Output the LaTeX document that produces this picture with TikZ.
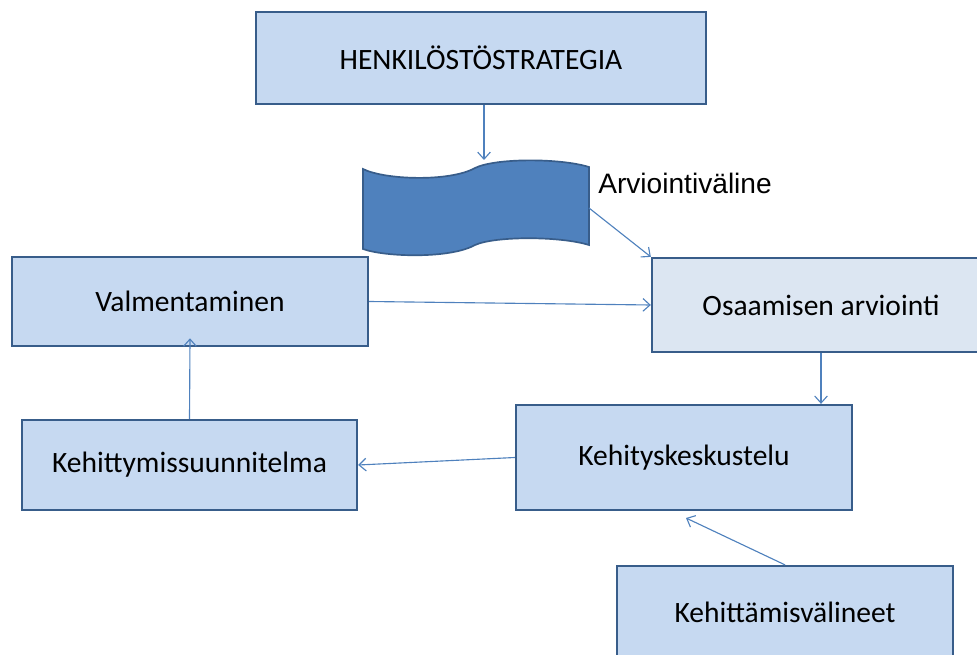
\documentclass[tikz,border=0pt]{standalone}
\usepackage{fontspec}
\setmainfont{Carlito}
\newfontfamily\labelfont{Liberation Sans}
\usetikzlibrary{arrows.meta}
\definecolor{boxfill}{RGB}{198,217,241}
\definecolor{boxfilllight}{RGB}{220,230,242}
\definecolor{boxline}{RGB}{56,93,138}
\definecolor{arrowline}{RGB}{79,129,189}
\tikzset{
  stepbox/.style={draw=boxline, line width=1.6pt, fill=boxfill, minimum height=2.3cm,
    font=\fontsize{21}{25}\selectfont, inner sep=0pt},
  link/.style={draw=arrowline, line width=0.8pt, -{Straight Barb[length=5pt,width=9pt]}}
}
\begin{document}
\begin{tikzpicture}[x=0.025cm,y=-0.025cm]
\useasboundingbox (0,0) rectangle (977,655);
\clip (0,0) rectangle (977,655);
\node[stepbox, minimum width=11.25cm] (strategia) at (481,58) {HENKILÖSTÖSTRATEGIA};
\node[stepbox, minimum width=8.9cm, minimum height=2.225cm] (valmentaminen) at (190,301.5) {Valmentaminen};
\node[stepbox, fill=boxfilllight, minimum width=8.45cm, minimum height=2.35cm] (arviointi) at (821,305) {Osaamisen arviointi};
\node[stepbox, minimum width=8.4cm, minimum height=2.625cm] (keskustelu) at (684,457.5) {Kehityskeskustelu};
\node[stepbox, minimum width=8.375cm, minimum height=2.25cm] (suunnitelma) at (189.5,465) {Kehittymissuunnitelma};
\node[stepbox, minimum width=8.4cm] (valineet) at (785,612) {Kehittämisvälineet};
% wave shape
\draw[boxline, line width=1.2pt, fill=arrowline] (363,169) .. controls (385,180) and (450,182) .. (475,168)
  .. controls (495,158) and (560,158) .. (589,167) -- (589,245)
  .. controls (560,236) and (495,236) .. (475,245)
  .. controls (450,259) and (385,257) .. (363,249) -- cycle;
\coordinate (wavetop) at (484,160);
\coordinate (waveright) at (589,208);
\node[font=\labelfont\fontsize{20}{24}\selectfont, anchor=west, inner sep=0pt] (valine) at (598,183) {Arviointiväline};
\coordinate (tulos) at (686,518);
% connectors
\draw[link] (strategia.south -| wavetop) -- (wavetop);
\draw[link] (waveright) -- (arviointi.north west);
\draw[link] (valmentaminen.east) -- (arviointi.west);
\draw[link] (arviointi.south) -- (arviointi.south |- keskustelu.north);
\draw[link] (keskustelu.west) -- (suunnitelma.east);
\draw[link] (suunnitelma.north) -- ([yshift=0.22cm]valmentaminen.south);
\draw[link] (valineet.north) -- (tulos);
\end{tikzpicture}
\end{document}
